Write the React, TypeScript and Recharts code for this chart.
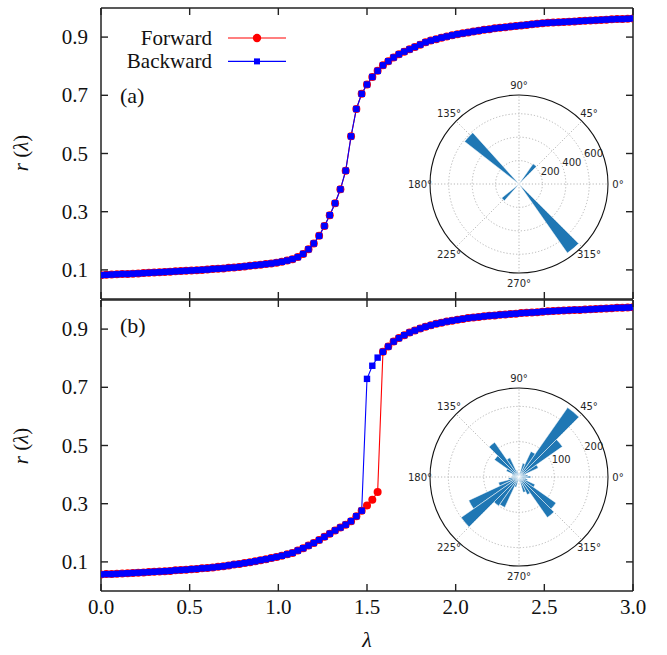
import React from "react";
import {
  LineChart,
  Line,
  XAxis,
  YAxis,
  RadarChart,
  PolarGrid,
  PolarAngleAxis,
  PolarRadiusAxis,
  Radar,
  Sector,
} from "recharts";

// coupling strength, one sweep point every 0.03
const LAMBDA = [
  0, 0.03, 0.06, 0.09, 0.12, 0.15, 0.18, 0.21, 0.24, 0.27,
  0.3, 0.33, 0.36, 0.39, 0.42, 0.45, 0.48, 0.51, 0.54, 0.57,
  0.6, 0.63, 0.66, 0.69, 0.72, 0.75, 0.78, 0.81, 0.84, 0.87,
  0.9, 0.93, 0.96, 0.99, 1.02, 1.05, 1.08, 1.11, 1.14, 1.17,
  1.2, 1.23, 1.26, 1.29, 1.32, 1.35, 1.38, 1.41, 1.44, 1.47,
  1.5, 1.53, 1.56, 1.59, 1.62, 1.65, 1.68, 1.71, 1.74, 1.77,
  1.8, 1.83, 1.86, 1.89, 1.92, 1.95, 1.98, 2.01, 2.04, 2.07,
  2.1, 2.13, 2.16, 2.19, 2.22, 2.25, 2.28, 2.31, 2.34, 2.37,
  2.4, 2.43, 2.46, 2.49, 2.52, 2.55, 2.58, 2.61, 2.64, 2.67,
  2.7, 2.73, 2.76, 2.79, 2.82, 2.85, 2.88, 2.91, 2.94, 2.97, 3.0,
];

// panel (a)
const TOP_FORWARD = [
  0.082, 0.083, 0.084, 0.085, 0.086, 0.086, 0.087, 0.088, 0.089, 0.09,
  0.091, 0.092, 0.093, 0.094, 0.095, 0.096, 0.097, 0.098, 0.099, 0.1,
  0.101, 0.103, 0.104, 0.105, 0.107, 0.108, 0.11, 0.112, 0.114, 0.116,
  0.118, 0.12, 0.122, 0.125, 0.128, 0.132, 0.137, 0.144, 0.155, 0.171,
  0.191, 0.217, 0.251, 0.288, 0.329, 0.377, 0.441, 0.559, 0.653, 0.705,
  0.737, 0.763, 0.784, 0.803, 0.817, 0.83, 0.841, 0.85, 0.858, 0.866,
  0.874, 0.882, 0.888, 0.893, 0.898, 0.902, 0.906, 0.91, 0.913, 0.916,
  0.919, 0.922, 0.925, 0.927, 0.93, 0.932, 0.934, 0.936, 0.938, 0.94,
  0.942, 0.944, 0.946, 0.948, 0.949, 0.95, 0.951, 0.952, 0.953, 0.954,
  0.955, 0.956, 0.957, 0.958, 0.959, 0.96, 0.961, 0.962, 0.962, 0.963, 0.964,
];
// no hysteresis in (a): the backward sweep lies on the forward one
const TOP_BACKWARD = TOP_FORWARD;

// panel (b)
const BOTTOM_FORWARD = [
  0.057, 0.058, 0.058, 0.059, 0.06, 0.061, 0.062, 0.063, 0.064, 0.065,
  0.066, 0.067, 0.068, 0.069, 0.071, 0.072, 0.073, 0.075, 0.076, 0.078,
  0.079, 0.081, 0.083, 0.085, 0.088, 0.091, 0.093, 0.096, 0.099, 0.102,
  0.106, 0.109, 0.113, 0.117, 0.121, 0.126, 0.131, 0.139, 0.147, 0.156,
  0.165, 0.175, 0.186, 0.197, 0.208, 0.218, 0.228, 0.24, 0.257, 0.276,
  0.294, 0.314, 0.34, 0.822, 0.84, 0.857, 0.869, 0.879, 0.888, 0.895,
  0.902, 0.908, 0.913, 0.918, 0.922, 0.926, 0.929, 0.932, 0.935, 0.938,
  0.94, 0.942, 0.944, 0.946, 0.947, 0.949, 0.95, 0.952, 0.953, 0.955,
  0.956, 0.957, 0.958, 0.96, 0.961, 0.962, 0.963, 0.964, 0.965, 0.966,
  0.966, 0.967, 0.968, 0.969, 0.97, 0.971, 0.972, 0.973, 0.973, 0.974, 0.975,
];
const BOTTOM_BACKWARD = [
  0.057, 0.058, 0.058, 0.059, 0.06, 0.061, 0.062, 0.063, 0.064, 0.065,
  0.066, 0.067, 0.068, 0.069, 0.071, 0.072, 0.073, 0.075, 0.076, 0.078,
  0.079, 0.081, 0.083, 0.085, 0.088, 0.091, 0.093, 0.096, 0.099, 0.102,
  0.106, 0.109, 0.113, 0.117, 0.121, 0.126, 0.131, 0.139, 0.147, 0.156,
  0.165, 0.175, 0.186, 0.197, 0.208, 0.218, 0.228, 0.24, 0.257, 0.276,
  0.729, 0.774, 0.802, 0.822, 0.84, 0.857, 0.869, 0.879, 0.888, 0.895,
  0.902, 0.908, 0.913, 0.918, 0.922, 0.926, 0.929, 0.932, 0.935, 0.938,
  0.94, 0.942, 0.944, 0.946, 0.947, 0.949, 0.95, 0.952, 0.953, 0.955,
  0.956, 0.957, 0.958, 0.96, 0.961, 0.962, 0.963, 0.964, 0.965, 0.966,
  0.966, 0.967, 0.968, 0.969, 0.97, 0.971, 0.972, 0.973, 0.973, 0.974, 0.975,
];

const X_TICKS = [0, 0.5, 1, 1.5, 2, 2.5, 3];
const Y_TICKS = [0.1, 0.3, 0.5, 0.7, 0.9];

// inset histograms of phases (degrees, counts)
const ROSE_A_ANGLE = [50, 137, 224, 310];
const ROSE_A_COUNT = [210, 590, 190, 720];
const ROSE_A_RTICKS = [200, 400, 600];
const ROSE_A_RMAX = 760;

const ROSE_B_ANGLE = [
  0, 10, 20, 30, 40, 50, 60, 70, 80, 90, 100, 110,
  120, 130, 140, 150, 160, 170, 180, 190, 200, 210, 220, 230,
  240, 250, 260, 270, 280, 290, 300, 310, 320, 330, 340, 350,
];
const ROSE_B_COUNT = [
  33, 25, 20, 60, 150, 240, 80, 40, 10, 5, 10, 20,
  60, 120, 85, 40, 20, 15, 20, 30, 60, 157, 200, 100,
  95, 30, 10, 5, 15, 45, 55, 140, 128, 50, 25, 20,
];
const ROSE_B_RTICKS = [100, 200];
const ROSE_B_RMAX = 252;

const ANGLE_TICKS = [0, 45, 90, 135, 180, 225, 270, 315];
const BIN_WIDTH = 10;

const RED = "#ff0000";
const BLUE = "#0000ff";
const ROSE = "#1f77b4";
const AXIS = "#222";
const FONT = "'Liberation Serif', 'Times New Roman', serif";
const SANS = "'DejaVu Sans', sans-serif";
const serif = { fontFamily: FONT };

const SERIES = [
  { key: "fwd", name: "Forward", color: RED, marker: "circle" },
  { key: "bwd", name: "Backward", color: BLUE, marker: "square" },
];

const W = 667;
const PLOT_L = 101;
const PLOT_R = 633;
const TICK = 7;

const fmt1 = (v: number) => v.toFixed(1);

const SquareDot = (p: any) => {
  if (p.cx == null || p.cy == null) return <g key={`s${p.index}`} />;
  return <rect key={`s${p.index}`} x={p.cx - 3.2} y={p.cy - 3.2} width={6.4} height={6.4} fill={BLUE} />;
};

const roseShape = (props: any) => (
  <g>
    {(props.points || []).map((p: any, i: number) => {
      const rad = (-p.angle * Math.PI) / 180;
      const cx = p.cx ?? p.x - p.radius * Math.cos(rad);
      const cy = p.cy ?? p.y - p.radius * Math.sin(rad);
      if (!p.radius) return null;
      return (
        <Sector
          key={i}
          cx={cx}
          cy={cy}
          innerRadius={0}
          outerRadius={p.radius}
          startAngle={p.angle - BIN_WIDTH / 2}
          endAngle={p.angle + BIN_WIDTH / 2}
          fill={ROSE}
          stroke="#ffffff"
          strokeWidth={0.5}
        />
      );
    })}
  </g>
);

const AngleTick = (p: any) => (
  <text x={p.x} y={p.y} textAnchor="middle" dominantBaseline="central" style={{ fontFamily: SANS }} fontSize={10} fill="#262626">
    {`${p.payload.value}°`}
  </text>
);

const RadiusTick = (p: any) => (
  <text x={p.x} y={p.y} textAnchor="start" style={{ fontFamily: SANS }} fontSize={10} fill="#262626">
    {p.payload.value}
  </text>
);

function RoseInset({ angles, counts, rMax, rTicks, cy }: { angles: number[]; counts: number[]; rMax: number; rTicks: number[]; cy: number }) {
  const data = angles.map((a, i) => ({ angle: a, count: counts[i] }));
  return (
    <div style={{ position: "absolute", left: 519 - 120, top: cy - 120 }}>
      <RadarChart width={240} height={240} data={data} outerRadius={89} startAngle={0} endAngle={360} margin={{ top: 0, right: 0, bottom: 0, left: 0 }}>
        <PolarGrid gridType="circle" stroke="#b5b5b5" strokeDasharray="1.2 2" />
        <PolarAngleAxis
          dataKey="angle"
          type="number"
          domain={[0, 360]}
          ticks={ANGLE_TICKS}
          axisLineType="circle"
          axisLine={{ stroke: "#111", strokeWidth: 1.1 }}
          tickLine={false}
          tickSize={10}
          tick={AngleTick}
        />
        <PolarRadiusAxis angle={22.5} type="number" domain={[0, rMax]} ticks={rTicks} axisLine={false} tickLine={false} tick={RadiusTick} />
        <Radar dataKey="count" isAnimationActive={false} shape={roseShape} />
      </RadarChart>
    </div>
  );
}

function Panel({ fwd, bwd, top, height, plotTop, plotBottom, labels }: { fwd: number[]; bwd: number[]; top: number; height: number; plotTop: number; plotBottom: number; labels: boolean }) {
  const data = LAMBDA.map((l, i) => ({ lambda: l, fwd: fwd[i], bwd: bwd[i] }));

  // gnuplot-style inward ticks, mirrored on the opposite side of the frame
  const xTick = (p: any) => (
    <g>
      <line x1={p.x} x2={p.x} y1={plotBottom} y2={plotBottom - TICK} stroke={AXIS} strokeWidth={1.4} />
      <line x1={p.x} x2={p.x} y1={plotTop} y2={plotTop + TICK} stroke={AXIS} strokeWidth={1.4} />
      {labels && (
        <text x={p.x} y={plotBottom + 23} textAnchor="middle" style={serif} fontSize={21} fill="#111">
          {fmt1(p.payload.value)}
        </text>
      )}
    </g>
  );
  const yTick = (p: any) => (
    <g>
      <line x1={PLOT_L} x2={PLOT_L + TICK} y1={p.y} y2={p.y} stroke={AXIS} strokeWidth={1.4} />
      <line x1={PLOT_R} x2={PLOT_R - TICK} y1={p.y} y2={p.y} stroke={AXIS} strokeWidth={1.4} />
      <text x={PLOT_L - 13} y={p.y + 7} textAnchor="end" style={serif} fontSize={21} fill="#111">
        {fmt1(p.payload.value)}
      </text>
    </g>
  );

  return (
    <div style={{ position: "absolute", left: 0, top }}>
      <LineChart width={W} height={height} data={data} margin={{ top: plotTop - 1, right: W - PLOT_R - 1, bottom: height - plotBottom - 1, left: 0 }}>
        <XAxis xAxisId="b" dataKey="lambda" type="number" domain={[0, 3]} ticks={X_TICKS} interval={0} height={1} tickLine={false} axisLine={{ stroke: AXIS, strokeWidth: 1.5 }} tick={xTick} allowDataOverflow />
        <XAxis xAxisId="t" dataKey="lambda" orientation="top" type="number" domain={[0, 3]} height={1} tickLine={false} axisLine={{ stroke: AXIS, strokeWidth: 1.5 }} tick={false} allowDataOverflow />
        <YAxis yAxisId="l" type="number" domain={[0, 1]} ticks={Y_TICKS} interval={0} width={PLOT_L} tickLine={false} axisLine={{ stroke: AXIS, strokeWidth: 1.5 }} tick={yTick} allowDataOverflow />
        <YAxis yAxisId="r" orientation="right" type="number" domain={[0, 1]} width={1} tickLine={false} axisLine={{ stroke: AXIS, strokeWidth: 1.5 }} tick={false} allowDataOverflow />
        <Line xAxisId="b" yAxisId="l" type="linear" dataKey="fwd" name="Forward" stroke={RED} strokeWidth={1.1} dot={{ r: 4, fill: RED, stroke: RED, strokeWidth: 0 }} activeDot={false} isAnimationActive={false} />
        <Line xAxisId="b" yAxisId="l" type="linear" dataKey="bwd" name="Backward" stroke={BLUE} strokeWidth={1.1} dot={SquareDot} activeDot={false} isAnimationActive={false} />
      </LineChart>
    </div>
  );
}

export default function App() {
  return (
    <div style={{ position: "absolute", left: 0, top: 0, width: W, height: 655, background: "#fff" }}>
      <Panel fwd={TOP_FORWARD} bwd={TOP_BACKWARD} top={0} height={300} plotTop={8} plotBottom={299} labels={false} />
      <Panel fwd={BOTTOM_FORWARD} bwd={BOTTOM_BACKWARD} top={299} height={356} plotTop={1} plotBottom={292} labels={true} />

      <svg width={W} height={655} style={{ position: "absolute", left: 0, top: 0, pointerEvents: "none" }}>
        {SERIES.map((s, i) => {
          const y = 38 + i * 23.4;
          return (
            <g key={s.key}>
              <text x={212} y={y + 7} textAnchor="end" style={serif} fontSize={21} fill="#111">{s.name}</text>
              <line x1={228} x2={286} y1={y} y2={y} stroke={s.color} strokeWidth={1.1} />
              {s.marker === "circle" ? (
                <circle cx={257} cy={y} r={4.2} fill={s.color} />
              ) : (
                <rect x={257 - 3} y={y - 3} width={6} height={6} fill={s.color} />
              )}
            </g>
          );
        })}
        <text x={120} y={103} style={serif} fontSize={22} fill="#111">(a)</text>
        <text x={120} y={333} style={serif} fontSize={22} fill="#111">(b)</text>
        {[153, 446].map((cy) => (
          <text key={cy} transform={`translate(28 ${cy}) rotate(-90)`} textAnchor="middle" style={serif} fontSize={21} fill="#111">
            <tspan fontStyle="italic">r</tspan> (<tspan fontStyle="italic">λ</tspan>)
          </text>
        ))}
        <text x={367} y={647} textAnchor="middle" style={serif} fontStyle="italic" fontSize={22} fill="#111">λ</text>
      </svg>

      <RoseInset angles={ROSE_A_ANGLE} counts={ROSE_A_COUNT} rMax={ROSE_A_RMAX} rTicks={ROSE_A_RTICKS} cy={184} />
      <RoseInset angles={ROSE_B_ANGLE} counts={ROSE_B_COUNT} rMax={ROSE_B_RMAX} rTicks={ROSE_B_RTICKS} cy={477} />
    </div>
  );
}
